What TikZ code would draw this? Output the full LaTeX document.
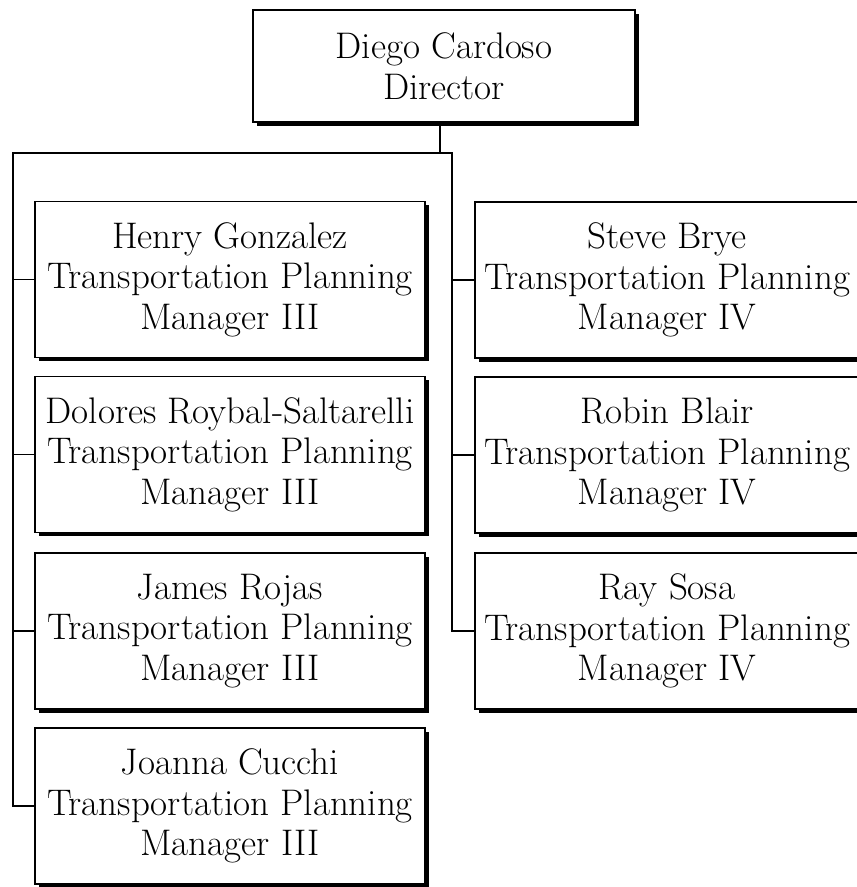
\documentclass[tikz,border=0pt]{standalone}
\usetikzlibrary{shadows}
\begin{document}
\begin{tikzpicture}[x=1pt,y=-1pt,
  box/.style={draw=black, line width=1.6pt, fill=white, rectangle, align=center,
    inner sep=0pt, font=\fontsize{37}{40.5}\selectfont,
    drop shadow={shadow xshift=3.5pt, shadow yshift=-3.5pt, fill=black, opacity=1}},
  lbox/.style={box, minimum width=390pt, minimum height=156pt},
  rbox/.style={box, minimum width=384pt, minimum height=156pt},
  conn/.style={line width=1.6pt}]
\path[use as bounding box, clip] (0,0) rectangle (857,887);

\node[box, minimum width=382pt, minimum height=112pt] (dir) at (444,66) {Diego Cardoso\\Director};

\node[lbox] (henry) at (230,279.5) {Henry Gonzalez\\Transportation Planning\\Manager III};
\node[lbox] (dolores) at (230,454.5) {Dolores Roybal-Saltarelli\\Transportation Planning\\Manager III};
\node[lbox] (james) at (230,631) {James Rojas\\Transportation Planning\\Manager III};
\node[lbox] (joanna) at (230,806) {Joanna Cucchi\\Transportation Planning\\Manager III};

\node[rbox] (steve) at (667,280) {Steve Brye\\Transportation Planning\\Manager IV};
\node[rbox] (robin) at (667,455) {Robin Blair\\Transportation Planning\\Manager IV};
\node[rbox] (ray) at (667,631) {Ray Sosa\\Transportation Planning\\Manager IV};

\coordinate (busL) at (13,153);
\coordinate (busR) at (452,153);
\coordinate (drop) at (440,153);

\draw[conn] (dir.south -| drop) -- (drop);
\draw[conn] (joanna.west) -| (busL) -- (busR) |- (ray.west);
\draw[conn] (henry.west) -- (henry.west -| busL);
\draw[conn] (dolores.west) -- (dolores.west -| busL);
\draw[conn] (james.west) -- (james.west -| busL);
\draw[conn] (steve.west) -- (steve.west -| busR);
\draw[conn] (robin.west) -- (robin.west -| busR);
\end{tikzpicture}
\end{document}
